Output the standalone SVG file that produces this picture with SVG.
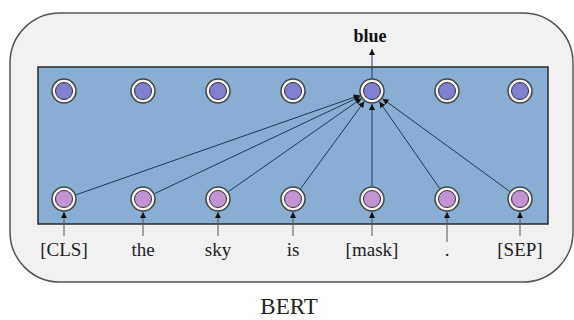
<svg xmlns="http://www.w3.org/2000/svg" width="574" height="320" viewBox="0 0 574 320">
<defs>
<marker id="ah" viewBox="0 0 10 10" refX="10" refY="5" markerWidth="7" markerHeight="6" markerUnits="userSpaceOnUse" orient="auto">
<path d="M0,0 L10,5 L0,10 z" fill="#111"/>
</marker>
<style>
.outer{fill:#f1f1f1;stroke:#555;stroke-width:1.5}
.box{fill:#88aed3;stroke:#2a2a2a;stroke-width:1.5}
.ring{fill:#f4f4f4;stroke:#444;stroke-width:1.5}
.top{fill:#8080cf;stroke:#333;stroke-width:1}
.bot{fill:#c393d3;stroke:#333;stroke-width:1}
.c{stroke:#1f3a58;stroke-width:1;fill:none;marker-end:url(#ah)}
.in{stroke:#555;stroke-width:1;fill:none;marker-end:url(#ah)}
.lbl{font-family:"Liberation Serif",serif;font-size:19px;fill:#222;text-anchor:middle}
</style>
</defs>
<rect class="outer" x="10" y="13" width="563" height="269" rx="50" ry="50"/>
<rect class="box" x="38" y="67" width="510" height="157"/>
<g id="top-nodes">
<g id="t0"><circle class="ring" cx="64" cy="91" r="12"/><circle class="top" cx="64" cy="91" r="8.5"/></g>
<g id="t1"><circle class="ring" cx="143" cy="91" r="12"/><circle class="top" cx="143" cy="91" r="8.5"/></g>
<g id="t2"><circle class="ring" cx="218" cy="91" r="12"/><circle class="top" cx="218" cy="91" r="8.5"/></g>
<g id="t3"><circle class="ring" cx="293" cy="91" r="12"/><circle class="top" cx="293" cy="91" r="8.5"/></g>
<g id="t4"><circle class="ring" cx="372" cy="91" r="12"/><circle class="top" cx="372" cy="91" r="8.5"/></g>
<g id="t5"><circle class="ring" cx="447" cy="91" r="12"/><circle class="top" cx="447" cy="91" r="8.5"/></g>
<g id="t6"><circle class="ring" cx="520" cy="91" r="12"/><circle class="top" cx="520" cy="91" r="8.5"/></g>
</g>
<g id="bottom-nodes">
<g id="b0"><circle class="ring" cx="64" cy="199" r="12"/><circle class="bot" cx="64" cy="199" r="8.5"/></g>
<g id="b1"><circle class="ring" cx="143" cy="199" r="12"/><circle class="bot" cx="143" cy="199" r="8.5"/></g>
<g id="b2"><circle class="ring" cx="218" cy="199" r="12"/><circle class="bot" cx="218" cy="199" r="8.5"/></g>
<g id="b3"><circle class="ring" cx="293" cy="199" r="12"/><circle class="bot" cx="293" cy="199" r="8.5"/></g>
<g id="b4"><circle class="ring" cx="372" cy="199" r="12"/><circle class="bot" cx="372" cy="199" r="8.5"/></g>
<g id="b5"><circle class="ring" cx="447" cy="199" r="12"/><circle class="bot" cx="447" cy="199" r="8.5"/></g>
<g id="b6"><circle class="ring" cx="520" cy="199" r="12"/><circle class="bot" cx="520" cy="199" r="8.5"/></g>
</g>
<g id="connectors">
<line class="c" x1="76.3" y1="194.7" x2="359.7" y2="95.3"/>
<line class="c" x1="154.8" y1="193.5" x2="360.2" y2="96.5"/>
<line class="c" x1="228.6" y1="191.5" x2="361.4" y2="98.5"/>
<line class="c" x1="300.7" y1="188.5" x2="364.3" y2="101.5"/>
<line class="c" x1="372" y1="186" x2="372" y2="104"/>
<line class="c" x1="439.6" y1="188.3" x2="379.4" y2="101.7"/>
<line class="c" x1="509.5" y1="191.3" x2="382.5" y2="98.7"/>
<line class="c" x1="372" y1="79" x2="372" y2="49"/>
<line class="in" x1="64" y1="236" x2="64" y2="212"/>
<line class="in" x1="143" y1="236" x2="143" y2="212"/>
<line class="in" x1="218" y1="236" x2="218" y2="212"/>
<line class="in" x1="293" y1="236" x2="293" y2="212"/>
<line class="in" x1="372" y1="236" x2="372" y2="212"/>
<line class="in" x1="447" y1="242" x2="447" y2="212"/>
<line class="in" x1="520" y1="236" x2="520" y2="212"/>
</g>
<g id="labels">
<text class="lbl" x="64" y="256">[CLS]</text>
<text class="lbl" x="143" y="256">the</text>
<text class="lbl" x="218" y="256">sky</text>
<text class="lbl" x="293" y="256">is</text>
<text class="lbl" x="372" y="256">[mask]</text>
<text class="lbl" x="447" y="256">.</text>
<text class="lbl" x="520" y="256">[SEP]</text>
<text x="370" y="42" style="font-family:'Liberation Serif',serif;font-size:18px;font-weight:bold;fill:#111;text-anchor:middle">blue</text>
<text x="289" y="314" style="font-family:'Liberation Serif',serif;font-size:23px;fill:#222;text-anchor:middle">BERT</text>
</g>
</svg>
